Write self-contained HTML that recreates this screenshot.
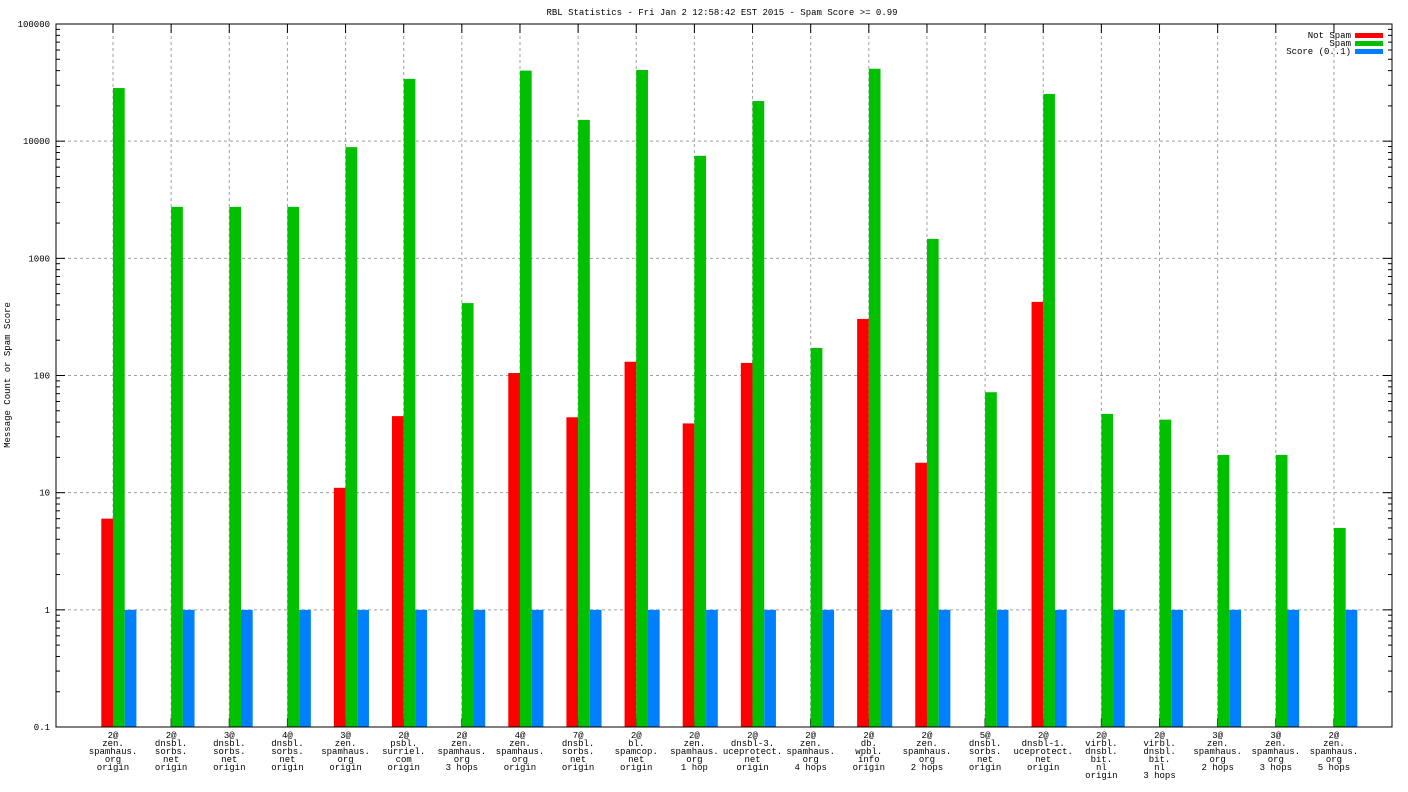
<!DOCTYPE html>
<html><head><meta charset="utf-8"><style>
html,body{margin:0;padding:0;background:#fff}
svg{display:block}
text{font-family:"Liberation Mono","DejaVu Sans Mono",monospace;font-size:9px;fill:#000}
</style></head><body>
<svg id="chart" width="1408" height="792" xmlns="http://www.w3.org/2000/svg"></svg>
<script>
const categories = [
 ["2@","zen.","spamhaus.","org","origin"],
 ["2@","dnsbl.","sorbs.","net","origin"],
 ["3@","dnsbl.","sorbs.","net","origin"],
 ["4@","dnsbl.","sorbs.","net","origin"],
 ["3@","zen.","spamhaus.","org","origin"],
 ["2@","psbl.","surriel.","com","origin"],
 ["2@","zen.","spamhaus.","org","3 hops"],
 ["4@","zen.","spamhaus.","org","origin"],
 ["7@","dnsbl.","sorbs.","net","origin"],
 ["2@","bl.","spamcop.","net","origin"],
 ["2@","zen.","spamhaus.","org","1 hop"],
 ["2@","dnsbl-3.","uceprotect.","net","origin"],
 ["2@","zen.","spamhaus.","org","4 hops"],
 ["2@","db.","wpbl.","info","origin"],
 ["2@","zen.","spamhaus.","org","2 hops"],
 ["5@","dnsbl.","sorbs.","net","origin"],
 ["2@","dnsbl-1.","uceprotect.","net","origin"],
 ["2@","virbl.","dnsbl.","bit.","nl","origin"],
 ["2@","virbl.","dnsbl.","bit.","nl","3 hops"],
 ["3@","zen.","spamhaus.","org","2 hops"],
 ["3@","zen.","spamhaus.","org","3 hops"],
 ["2@","zen.","spamhaus.","org","5 hops"]
];
const notSpam = [6,0,0,0,11,45,0,105,44,131,39,128,0,304,18,0,425,0,0,0,0,0];
const spam = [28400,2750,2750,2750,8900,34000,415,40000,15200,40500,7500,22000,172,41500,1465,72,25300,47,42,21,21,5];
const score = [1,1,1,1,1,1,1,1,1,1,1,1,1,1,1,1,1,1,1,1,1,1];
const yTickLabels = ["0.1","1","10","100","1000","10000","100000"];

const NS="http://www.w3.org/2000/svg";
const svg=document.getElementById('chart');
const L=56,R=1392,T=24,B=727;
const yMin=-1,yMax=5;
function y(v){return B-(Math.log10(v)-yMin)/(yMax-yMin)*(B-T);}
function x(i){return 113+i*58.14;}
function el(tag,attrs,parent){const e=document.createElementNS(NS,tag);for(const k in attrs)e.setAttribute(k,attrs[k]);(parent||svg).appendChild(e);return e;}

// title
let t=el('text',{x:722,y:15,'text-anchor':'middle'});t.textContent="RBL Statistics - Fri Jan  2 12:58:42 EST 2015 - Spam Score >= 0.99";


// y axis title
t=el('text',{x:10,y:375,'text-anchor':'middle',transform:'rotate(-90 10 375)'});t.textContent="Message Count or Spam Score";



// horizontal grid + ticks
for(let d=0;d<yTickLabels.length;d++){
 const v=Math.pow(10,yMin+d), yy=y(v);
 if(d>0&&d<yTickLabels.length-1){const g=el('line',{x1:L,x2:R,y1:yy,y2:yy,stroke:'#a0a0a0','stroke-dasharray':'3,3'});
 
 }
 el('line',{x1:L,x2:L+9,y1:yy,y2:yy,stroke:'#000'});
 el('line',{x1:R-9,x2:R,y1:yy,y2:yy,stroke:'#000'});
 const lb=el('text',{x:L-6,y:yy+3,'text-anchor':'end'});lb.textContent=yTickLabels[d];
 
 
 if(d<yTickLabels.length-1){for(let m=2;m<10;m++){const ym=y(v*m);
  el('line',{x1:L,x2:L+4,y1:ym,y2:ym,stroke:'#000'});el('line',{x1:R-4,x2:R,y1:ym,y2:ym,stroke:'#000'});}}
}
// vertical grid + x ticks + labels
categories.forEach((c,i)=>{
 const xx=x(i);
 const g=el('line',{x1:xx,x2:xx,y1:T,y2:B,stroke:'#a0a0a0','stroke-dasharray':'3,3'});
 
 
 el('line',{x1:xx,x2:xx,y1:B,y2:B-9,stroke:'#000'});
 el('line',{x1:xx,x2:xx,y1:T,y2:T+9,stroke:'#000'});
 const lb=el('text',{x:xx,y:B+11,'text-anchor':'middle'});
 
 
 c.forEach((s,k)=>{const sp=el('tspan',{x:xx,dy:k?8:0},lb);sp.textContent=s;});
});
// bars
const bw=11.7;
function bar(i,v,off,col,name){ if(!v) return; const yy=y(v);
 const r=el('rect',{x:x(i)+off,y:yy,width:bw,height:B-yy,fill:col});
 
 }
categories.forEach((c,i)=>{
 bar(i,notSpam[i],-bw,'#ff0000','bar-not-spam');
 bar(i,spam[i],0,'#00c000','bar-spam');
 bar(i,score[i],bw,'#0080ff','bar-score');
});
// frame
const f=el('rect',{x:L,y:T,width:R-L,height:B-T,fill:'none',stroke:'#000'});


// legend
const leg=[["Not Spam","#ff0000"],["Spam","#00c000"],["Score (0..1)","#0080ff"]];
leg.forEach((l,k)=>{const yy=35+k*8;
 const tx=el('text',{x:1351,y:yy+3,'text-anchor':'end'});tx.textContent=l[0];
 
 
 const sw=el('rect',{x:1355,y:yy-2,width:28,height:5,fill:l[1]});
 
 
});
</script>
</body></html>
